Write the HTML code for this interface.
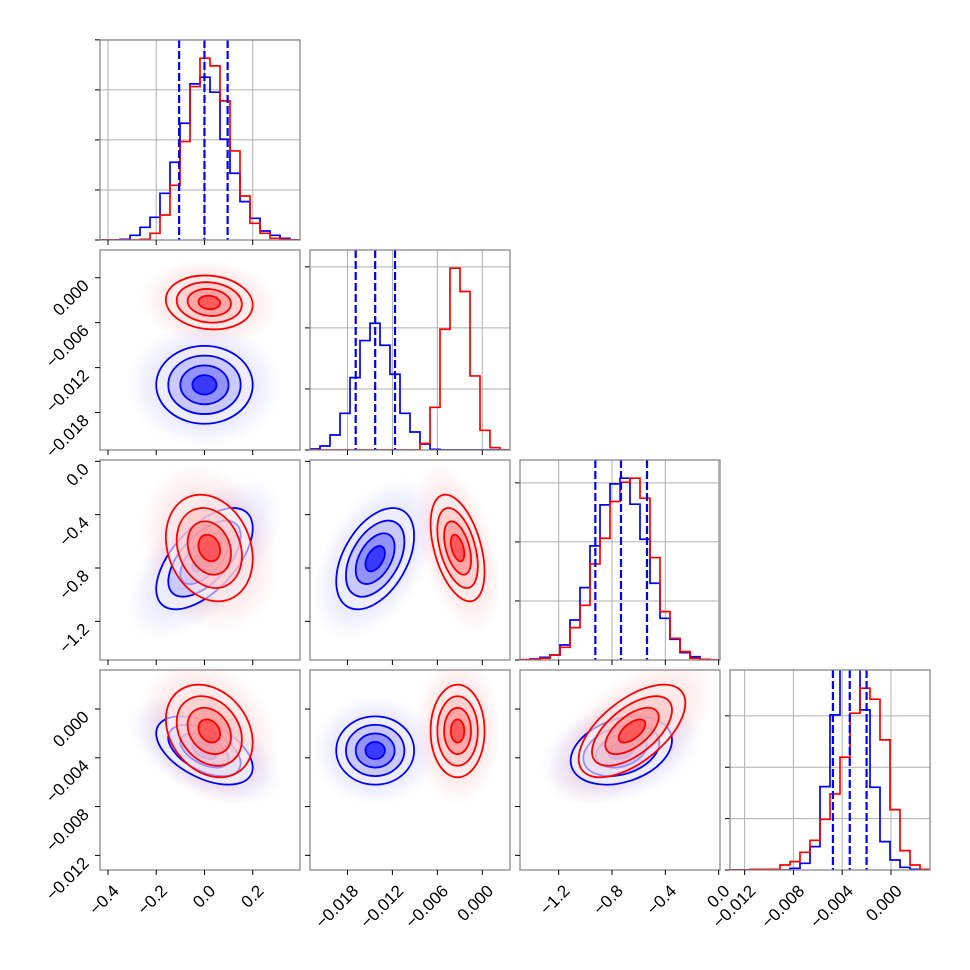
<!DOCTYPE html>
<html><head><meta charset="utf-8"><style>
html,body{margin:0;padding:0;background:#fff;}
svg{display:block;font-family:"Liberation Sans",sans-serif;}
</style></head><body>
<svg id="fig" width="970" height="970" viewBox="0 0 970 970" xmlns="http://www.w3.org/2000/svg"></svg>
<script>
// ---- data ----
const ranges = [[-0.433,0.396],[-0.0230,0.0037],[-1.49,0.01],[-0.0132,0.0032]];
const axisTicks = [[-0.4,-0.2,0,0.2],[-0.018,-0.012,-0.006,0],[-1.2,-0.8,-0.4,0],[-0.012,-0.008,-0.004,0]];
const tickLabels = [["−0.4","−0.2","0.0","0.2"],["−0.018","−0.012","−0.006","0.000"],["−1.2","−0.8","−0.4","0.0"],["−0.012","−0.008","−0.004","0.000"]];
const histBlue1 = [0,0,2,14,38,68,140,233,350,468,488,443,302,200,115,65,27,14,5,0];
const histRed1  = [0,0,0,0,2,20,75,164,295,460,545,522,417,267,132,50,20,5,2,0];
const histBlue2 = [3,12,45,110,217,328,380,314,227,110,54,18,2,0,0,0,0,0,0,0];
const histRed2  = [0,0,0,0,0,0,0,0,0,0,0,20,128,362,545,475,222,59,7,0];
const histBlue3 = [1,3,8,15,45,120,217,342,465,528,545,467,362,230,125,62,22,10,2,0];
const histRed3  = [1,2,5,15,38,97,164,288,365,475,533,545,485,307,145,65,25,5,2,0];
const histBlue4 = [0,0,0,0,0,0,5,20,70,250,465,720,700,480,248,85,30,8,2,0];
const histRed4  = [0,0,2,2,2,15,25,53,89,152,228,338,470,545,512,390,181,58,15,2];
const histTicks1 = [0,150,300,450,600];
const histTicks2 = [0,183,366,549];
const histTicks3 = [0,177,354,531];
const histTicks4 = [0,154,308,462];
const quant1 = [-0.105,0.0,0.096];
const quant2 = [-0.0169,-0.0143,-0.01165];
const quant3 = [-0.925,-0.7325,-0.5375];
const quant4 = [-0.00476,-0.00338,-0.00200];
const meanBlue = [0.0,-0.0143,-0.73,-0.0034];
const stdBlue  = [0.1,0.0026,0.19,0.0014];
const meanRed  = [0.02,-0.0033,-0.65,-0.0018];
const stdRed   = [0.09,0.0018,0.2,0.0019];
const pairs = [[0,1],[0,2],[1,2],[0,3],[1,3],[2,3]];
const corrBlue = [0.0,0.6,0.45,-0.5,0.0,0.3];
const corrRed  = [-0.1,-0.2,-0.45,-0.25,0.0,0.6];
const sigmaLevels = [2,1.5,1,0.5];

// ---- layout ----
const NS="http://www.w3.org/2000/svg";
const svg=document.getElementById('fig');
const P0=100, PS=200, GAP=10, FS=17;
const hists=[[histBlue1,histRed1],[histBlue2,histRed2],[histBlue3,histRed3],[histBlue4,histRed4]];
const hticks=[histTicks1,histTicks2,histTicks3,histTicks4];
const quants=[quant1,quant2,quant3,quant4];
function mk(tag,attrs,parent){const e=document.createElementNS(NS,tag);for(const k in attrs)e.setAttribute(k,attrs[k]);(parent||svg).appendChild(e);return e;}
function px0(i){return P0+i*(PS+GAP);}
function xs(i,v){const r=ranges[i];return px0(i)+(v-r[0])/(r[1]-r[0])*PS;}
function rowTop(r){return 40+r*(PS+GAP);}
function ysc(r,i,v){const rg=ranges[i];return rowTop(r)+PS-(v-rg[0])/(rg[1]-rg[0])*PS;}

const defs=mk('defs',{});
function addGrad(id,color){const g=mk('radialGradient',{id:id},defs);
  mk('stop',{offset:'0','stop-color':color,'stop-opacity':'0.25'},g);
  mk('stop',{offset:'0.55','stop-color':color,'stop-opacity':'0.1'},g);
  mk('stop',{offset:'1','stop-color':color,'stop-opacity':'0'},g);}
addGrad('hazeBlue','#0000ff');addGrad('hazeRed','#ff0000');

function frame(col,row,name){
  const x=px0(col), y=rowTop(row);
  const f=mk('rect',{x:x,y:y,width:PS,height:PS,fill:'none',stroke:'#808080','stroke-width':1.2});
  
  
}
function xTicks(col,row,labels){
  const y=rowTop(row)+PS;
  axisTicks[col].forEach((v,k)=>{
    const x=xs(col,v);
    const t=mk('line',{x1:x,x2:x,y1:y,y2:y+5,stroke:'#000','stroke-width':1});
    
    
    if(labels){
      const tx=mk('text',{x:0,y:0,'font-size':FS,'text-anchor':'end',transform:`translate(${x+12},${y+22}) rotate(-45)`});
      tx.textContent=tickLabels[col][k];
      
      
    }
  });
}
function yTicks(row,param){
  const x=P0;
  axisTicks[param].forEach((v,k)=>{
    const y=ysc(row,param,v);
    const t=mk('line',{x1:x-5,x2:x,y1:y,y2:y,stroke:'#000','stroke-width':1});
    
    
    const tx=mk('text',{x:0,y:0,'font-size':FS,'text-anchor':'end',transform:`translate(${x-10},${y+9}) rotate(-45)`});
    tx.textContent=tickLabels[param][k];
    
    
  });
}

// ---- diagonal histograms ----
for(let i=0;i<4;i++){
  const x0=px0(i), y0=rowTop(i);
  const g=mk('g',{});
  
  
  const cp=mk('clipPath',{id:'cd'+i},defs);mk('rect',{x:x0,y:y0,width:PS,height:PS},cp);
  const [hb,hr]=hists[i];
  const ymax=1.1*Math.max(...hr);
  const yv=v=>y0+PS-v/ymax*PS;
  axisTicks[i].forEach(v=>{const x=xs(i,v);const l=mk('line',{x1:x,x2:x,y1:y0,y2:y0+PS,stroke:'#b0b0b0','stroke-width':1},g);
    });
  hticks[i].forEach(v=>{const y=yv(v);const l=mk('line',{x1:x0,x2:x0+PS,y1:y,y2:y,stroke:'#b0b0b0','stroke-width':1},g);
    
    const t=mk('line',{x1:x0-5,x2:x0,y1:y,y2:y,stroke:'#000','stroke-width':1},g);
    });
  const r=ranges[i], n=hb.length, bw=(r[1]-r[0])/n;
  function stepPath(h){let d='';for(let k=0;k<n;k++){const xa=xs(i,r[0]+k*bw),xb=xs(i,r[0]+(k+1)*bw),y=yv(h[k]);d+=(k===0?`M${xa},${y0+PS}L${xa},${y}`:`L${xa},${y}`)+`L${xb},${y}`;}return d+`L${xs(i,r[1])},${y0+PS}`;}
  const pb=mk('path',{d:stepPath(hb),fill:'none',stroke:'#0000ff','stroke-width':1.7,'clip-path':`url(#cd${i})`},g);
  
  const pr=mk('path',{d:stepPath(hr),fill:'none',stroke:'#ff0000','stroke-width':1.7,'clip-path':`url(#cd${i})`},g);
  
  quants[i].forEach(q=>{const x=xs(i,q);const l=mk('line',{x1:x,x2:x,y1:y0,y2:y0+PS,stroke:'#0000ff','stroke-width':2.2,'stroke-dasharray':'8,3'},g);
    });
  frame(i,i,'histogram-'+(i+1));
  xTicks(i,i,i===3);
}

// ---- 2D panels ----
function ellipseParams(col,row,mx,my,sx,sy,rho){
  const cx=xs(col,mx), cy=ysc(row,row,my);
  const kx=PS/(ranges[col][1]-ranges[col][0]), ky=PS/(ranges[row][1]-ranges[row][0]);
  const a=(sx*kx)**2, c=(sy*ky)**2, b=-rho*sx*kx*sy*ky;
  const tr=(a+c)/2, det=Math.sqrt(((a-c)/2)**2+b*b);
  const l1=tr+det, l2=tr-det;
  const ang=Math.atan2(l1-a,b)*180/Math.PI;
  const angle=(b===0)?(a>=c?0:90):ang;
  return {cx,cy,r1:Math.sqrt(l1),r2:Math.sqrt(Math.max(l2,1e-6)),angle};
}
const fillsBlue=['#eeeeff','#c4c4ff','#8888ff','#2a2aff'];
const fillsRed=['#ffeeee','#ffc4c4','#ff8888','#ff2a2a'];
pairs.forEach((pr,k)=>{
  const [col,row]=pr;
  const x0=px0(col), y0=rowTop(row);
  const cp=mk('clipPath',{id:'c2'+k},defs);mk('rect',{x:x0,y:y0,width:PS,height:PS},cp);
  const g=mk('g',{'clip-path':`url(#c2${k})`});
  
  
  const sets=[['blue',meanBlue,stdBlue,corrBlue,'hazeBlue',fillsBlue,'#0000ff',0.85],['red',meanRed,stdRed,corrRed,'hazeRed',fillsRed,'#ff0000',0.6]];
  sets.forEach(s=>{
    const e=ellipseParams(col,row,s[1][col],s[1][row],s[2][col],s[2][row],s[3][k]);
    const h=mk('ellipse',{cx:e.cx,cy:e.cy,rx:e.r1*3.2,ry:e.r2*3.2,fill:`url(#${s[4]})`,transform:`rotate(${e.angle},${e.cx},${e.cy})`},g);
    
  });
  sets.forEach(s=>{
    const e=ellipseParams(col,row,s[1][col],s[1][row],s[2][col],s[2][row],s[3][k]);
    sigmaLevels.forEach((lv,j)=>{
      const f=mk('ellipse',{cx:e.cx,cy:e.cy,rx:e.r1*lv,ry:e.r2*lv,fill:s[5][j],'fill-opacity':s[7],transform:`rotate(${e.angle},${e.cx},${e.cy})`},g);
      
    });
    sigmaLevels.forEach(lv=>{
      const c=mk('ellipse',{cx:e.cx,cy:e.cy,rx:e.r1*lv,ry:e.r2*lv,fill:'none',stroke:s[6],'stroke-width':1.8,transform:`rotate(${e.angle},${e.cx},${e.cy})`},g);
      
    });
  });
  frame(col,row,`scatter-p${col+1}-p${row+1}`);
  xTicks(col,row,row===3);
  if(col===0) yTicks(row,row);
  else {
    axisTicks[row].forEach(v=>{const y=ysc(row,row,v);const t=mk('line',{x1:x0-5,x2:x0,y1:y,y2:y,stroke:'#000','stroke-width':1});
      });
  }
});
</script>
</body></html>
